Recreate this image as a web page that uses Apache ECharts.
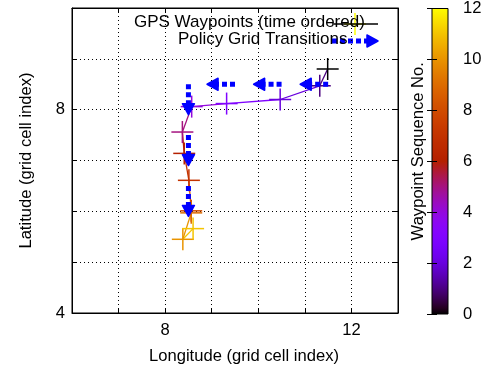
<!DOCTYPE html>
<html><head><meta charset="utf-8">
<script src="https://cdn.jsdelivr.net/npm/echarts@6/dist/echarts.min.js"></script>
<style>html,body{margin:0;padding:0;background:#fff}#c{width:487px;height:370px}</style>
</head><body><div id="c"></div>
<script>
// GPS waypoints (time ordered), grid-cell coordinates
const lon = [11.49, 11.32, 10.47, 9.32, 8.57, 8.37, 8.41, 8.51, 8.56, 8.56, 8.38, 8.60];
const lat = [8.80, 8.47, 8.20, 8.12, 8.06, 7.56, 7.14, 6.61, 6.01, 5.97, 5.45, 5.66];
const seq = [0, 1, 2, 3, 4, 5, 6, 7, 8, 9, 10, 11];
// Policy grid transitions (vectors)
const arrowX  = [11.5, 10.5, 9.5, 8.5, 8.5, 8.5];
const arrowY  = [8.5, 8.5, 8.5, 8.5, 7.5, 6.5];
const arrowDX = [-0.6, -0.6, -0.6, 0, 0, 0];
const arrowDY = [0, 0, 0, -0.6, -0.6, -0.6];
// tick labels
const xTickLabels = [8, 12];
const yTickLabels = [4, 8];
const cbTickLabels = [0, 2, 4, 6, 8, 10, 12];
const cbMin = 0, cbMax = 12;

const FONT = '"Liberation Sans", Arial, sans-serif';
function pal(t) {
  t = Math.max(0, Math.min(1, t));
  const r = Math.sqrt(t), g = t * t * t, b = Math.max(0, Math.sin(2 * Math.PI * t));
  return 'rgb(' + Math.round(r * 255) + ',' + Math.round(g * 255) + ',' + Math.round(b * 255) + ')';
}
function seqColor(s) { return pal((s - cbMin) / (cbMax - cbMin)); }

const stops = [];
for (let i = 0; i <= 48; i++) stops.push({ offset: i / 48, color: pal(1 - i / 48) });

function arrowShape(p0, p1) {
  const ang = Math.atan2(p1[1] - p0[1], p1[0] - p0[0]);
  const L = 11, W = 6;
  const bx = p1[0] - L * Math.cos(ang), by = p1[1] - L * Math.sin(ang);
  const nx = -Math.sin(ang), ny = Math.cos(ang);
  return {
    type: 'group', children: [
      { type: 'line', shape: { x1: p0[0], y1: p0[1], x2: bx, y2: by },
        style: { stroke: '#0000ff', lineWidth: 5, lineDash: [5, 3], lineCap: 'butt' } },
      { type: 'polygon', shape: { points: [[p1[0], p1[1]], [bx + nx * W, by + ny * W], [bx - nx * W, by - ny * W]] },
        style: { fill: '#0000ff', stroke: '#0000ff', lineWidth: 1.5, lineJoin: 'round' } }
    ]
  };
}
function plusShape(cx, cy, h, color) {
  return {
    type: 'group', children: [
      { type: 'line', shape: { x1: cx - h, y1: cy, x2: cx + h, y2: cy }, style: { stroke: color, lineWidth: 1.5 } },
      { type: 'line', shape: { x1: cx, y1: cy - h, x2: cx, y2: cy + h }, style: { stroke: color, lineWidth: 1.5 } }
    ]
  };
}

const wpData = lon.map((x, i) => [x, lat[i], seq[i]]);
const arData = arrowX.map((x, i) => [x, arrowY[i], arrowDX[i], arrowDY[i]]);

const axisCommon = {
  axisLine: { show: true, onZero: false, lineStyle: { color: '#000', width: 1 } },
  axisTick: { show: true, inside: true, length: 5, lineStyle: { color: '#000' } },
};
const labelStyle = { color: '#000', fontSize: 16.6, fontFamily: FONT };

const chart = echarts.init(document.getElementById('c'));
chart.setOption({
  animation: false,
  backgroundColor: '#fff',
  grid: [
    { left: 72, top: 8, width: 326, height: 306, show: true, borderColor: '#000', borderWidth: 1, backgroundColor: 'transparent' },
    { left: 432, top: 8, width: 16, height: 306, show: true, borderColor: '#000', borderWidth: 1,
      backgroundColor: new echarts.graphic.LinearGradient(0, 0, 0, 1, stops) }
  ],
  xAxis: [
    Object.assign({ type: 'value', gridIndex: 0, min: 6, max: 13, interval: 1, position: 'bottom',
      axisLabel: Object.assign({ margin: 9, formatter: v => xTickLabels.includes(v) ? String(v) : '' }, labelStyle),
      splitLine: { show: true, lineStyle: { color: '#000', type: [1, 3], width: 1 } },
      name: 'Longitude (grid cell index)', nameLocation: 'middle', nameGap: 35,
      nameTextStyle: Object.assign({ padding: [0, 0, 0, 18] }, labelStyle) }, axisCommon),
    Object.assign({ type: 'value', gridIndex: 0, min: 6, max: 13, interval: 1, position: 'top',
      axisLabel: { show: false }, splitLine: { show: false } }, axisCommon),
    { type: 'value', gridIndex: 1, min: 0, max: 1, show: false }
  ],
  yAxis: [
    Object.assign({ type: 'value', gridIndex: 0, min: 4, max: 10, interval: 1, position: 'left',
      axisLabel: Object.assign({ margin: 7, formatter: v => yTickLabels.includes(v) ? String(v) : '' }, labelStyle),
      splitLine: { show: true, lineStyle: { color: '#000', type: [1, 3], width: 1 } },
      name: 'Latitude (grid cell index)', nameLocation: 'middle', nameRotate: 90, nameGap: 37,
      nameTextStyle: labelStyle }, axisCommon),
    Object.assign({ type: 'value', gridIndex: 0, min: 4, max: 10, interval: 1, position: 'right',
      axisLabel: { show: false }, splitLine: { show: false } }, axisCommon),
    { type: 'value', gridIndex: 1, min: cbMin, max: cbMax, interval: 2, position: 'right',
      axisLine: { show: false }, axisTick: { show: true, inside: true, length: 5, lineStyle: { color: '#000' } },
      axisLabel: Object.assign({ margin: 15, formatter: v => cbTickLabels.includes(v) ? String(v) : '' }, labelStyle),
      splitLine: { show: false } },
    { type: 'value', gridIndex: 1, min: cbMin, max: cbMax, interval: 2, position: 'left',
      axisLine: { show: false }, axisTick: { show: true, inside: true, length: 5, lineStyle: { color: '#000' } },
      axisLabel: { show: false }, splitLine: { show: false },
      name: 'Waypoint Sequence No.', nameLocation: 'middle', nameRotate: 90, nameGap: 5,
      nameTextStyle: Object.assign({ padding: [0, 0, 0, 20] }, labelStyle) }
  ],
  series: [
    { type: 'custom', name: 'path', xAxisIndex: 0, yAxisIndex: 0, data: wpData, clip: true, z: 2,
      renderItem: function (params, api) {
        const i = params.dataIndex;
        if (i === 0) return null;
        const p0 = api.coord([lon[i - 1], lat[i - 1]]);
        const p1 = api.coord([api.value(0), api.value(1)]);
        return { type: 'line', shape: { x1: p0[0], y1: p0[1], x2: p1[0], y2: p1[1] },
          style: { stroke: seqColor(api.value(2)), lineWidth: 1.3 } };
      } },
    { type: 'custom', name: 'GPS Waypoints (time ordered)', xAxisIndex: 0, yAxisIndex: 0, data: wpData, clip: true, z: 3,
      renderItem: function (params, api) {
        const p = api.coord([api.value(0), api.value(1)]);
        return plusShape(p[0], p[1], 11, seqColor(api.value(2)));
      } },
    { type: 'custom', name: 'Policy Grid Transitions', xAxisIndex: 0, yAxisIndex: 0, data: arData, clip: true, z: 4,
      renderItem: function (params, api) {
        const x = api.value(0), y = api.value(1), dx = api.value(2), dy = api.value(3);
        return arrowShape(api.coord([x, y]), api.coord([x + dx, y + dy]));
      } }
  ],
  graphic: [
    { type: 'text', left: 134, top: 14, z: 10, style: { text: 'GPS Waypoints (time ordered)', fill: '#000', font: '17px ' + FONT } },
    { type: 'text', left: 178, top: 31, z: 10, style: { text: 'Policy Grid Transitions', fill: '#000', font: '17px ' + FONT } },
    { type: 'line', z: 11, shape: { x1: 332, y1: 24, x2: 378, y2: 24 }, style: { stroke: '#000', lineWidth: 1.3 } },
    { type: 'group', z: 12, children: [plusShape(355, 24, 11, seqColor(cbMax))] },
    { type: 'group', z: 12, children: [arrowShape([332, 41], [378, 41])] }
  ]
});
</script></body></html>
